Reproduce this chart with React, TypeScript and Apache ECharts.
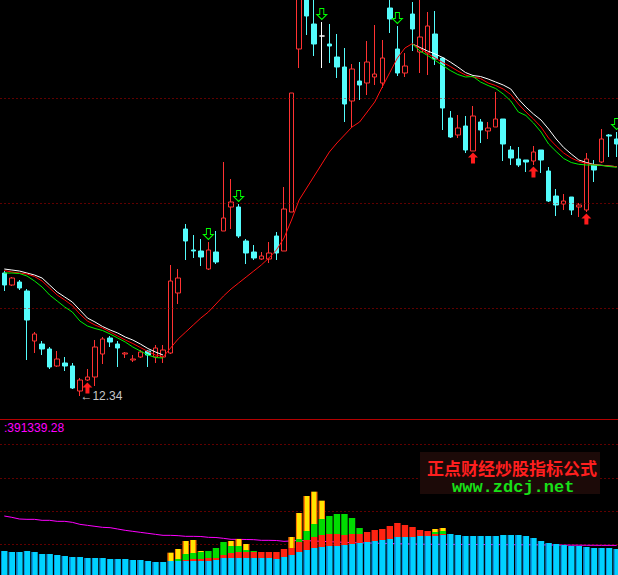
import React, { useEffect, useRef } from "react";
import * as echarts from "echarts";

// 82 trading days (labels are not displayed)
const categories: string[] = Array.from({ length: 82 }, (_, i) => `D${i + 1}`);

// [open, close, low, high]
const candles: number[][] = [
  [13.57, 13.45, 13.39, 13.59], [13.45, 13.52, 13.44, 13.53], [13.48, 13.42, 13.40, 13.50], [13.39, 13.10, 12.70, 13.41],
  [12.89, 12.96, 12.77, 12.98], [12.86, 12.81, 12.75, 12.89], [12.81, 12.63, 12.61, 12.83], [12.64, 12.71, 12.63, 12.79],
  [12.67, 12.64, 12.59, 12.73], [12.64, 12.42, 12.41, 12.67], [12.39, 12.50, 12.34, 12.52], [12.50, 12.53, 12.49, 12.61],
  [12.53, 12.83, 12.44, 12.90], [12.76, 12.91, 12.66, 12.93], [12.92, 12.88, 12.83, 12.94], [12.86, 12.82, 12.63, 12.89],
  [12.76, 12.77, 12.72, 12.78], [12.70, 12.71, 12.68, 12.75], [12.73, 12.78, 12.72, 12.80], [12.79, 12.75, 12.63, 12.80],
  [12.73, 12.82, 12.67, 12.85], [12.73, 12.80, 12.67, 12.85], [12.77, 13.49, 12.76, 13.65], [13.37, 13.52, 13.26, 13.61],
  [14.01, 13.89, 13.70, 14.06], [13.80, 13.79, 13.72, 13.95], [13.79, 13.73, 13.64, 13.91], [13.61, 13.80, 13.60, 13.88],
  [13.78, 13.68, 13.66, 13.99], [13.99, 14.12, 13.99, 14.68], [14.23, 14.28, 14.01, 14.51], [14.23, 13.94, 13.92, 14.26],
  [13.89, 13.77, 13.66, 13.91], [13.78, 13.72, 13.70, 13.85], [13.71, 13.74, 13.70, 13.78], [13.71, 13.77, 13.67, 13.88],
  [13.94, 13.77, 13.70, 13.98], [13.79, 14.21, 13.79, 14.43], [14.18, 15.37, 14.18, 15.37], [15.81, 16.35, 15.62, 16.40],
  [16.35, 16.14, 15.95, 16.40], [16.06, 15.86, 15.74, 16.35], [15.94, 15.94, 15.62, 16.08], [15.86, 15.84, 15.67, 16.06],
  [15.73, 15.63, 15.52, 15.96], [15.63, 15.26, 15.08, 15.82], [15.29, 15.61, 15.03, 15.66], [15.49, 15.45, 15.30, 15.68],
  [15.47, 15.68, 15.35, 15.89], [15.53, 15.56, 15.45, 16.05], [15.47, 15.72, 15.42, 15.90], [16.22, 16.11, 15.97, 16.35],
  [15.81, 15.57, 15.54, 16.04], [15.57, 15.64, 15.53, 15.77], [16.16, 16.01, 15.79, 16.28], [15.78, 15.93, 15.57, 16.35],
  [15.77, 16.04, 15.55, 16.18], [15.96, 15.71, 15.65, 16.19], [15.72, 15.22, 15.00, 15.73], [15.12, 14.93, 14.92, 15.19],
  [14.95, 15.02, 14.92, 15.15], [15.04, 14.80, 14.77, 15.14], [14.79, 15.14, 14.79, 15.24], [15.08, 15.00, 14.87, 15.11],
  [14.99, 15.02, 14.91, 15.08], [15.03, 15.11, 15.03, 15.38], [15.11, 14.86, 14.69, 15.11], [14.80, 14.72, 14.65, 14.84],
  [14.71, 14.65, 14.63, 14.83], [14.70, 14.68, 14.58, 14.70], [14.69, 14.78, 14.65, 14.84], [14.80, 14.70, 14.57, 14.80],
  [14.59, 14.29, 14.28, 14.63], [14.34, 14.25, 14.14, 14.41], [14.26, 14.29, 14.20, 14.36], [14.33, 14.20, 14.15, 14.33],
  [14.23, 14.25, 14.13, 14.27], [14.20, 14.71, 14.18, 14.77], [14.65, 14.60, 14.48, 14.70], [14.68, 14.91, 14.67, 15.01],
  [14.95, 14.94, 14.73, 14.96], [14.91, 14.86, 14.73, 14.98],
];

// moving-average style lines (falling phase: three lines; rising phase: one red line)
const whiteLeft = [13.61, 13.60, 13.59, 13.57, 13.55, 13.52, 13.45, 13.38, 13.33, 13.28, 13.20, 13.12, 13.08, 13.035, 13.00, 12.97, 12.93, 12.90, 12.86, 12.815, 12.78, 12.75];
const redLeft = [13.595, 13.58, 13.57, 13.56, 13.535, 13.49, 13.42, 13.35, 13.30, 13.245, 13.16, 13.09, 13.05, 13.02, 12.98, 12.94, 12.90, 12.865, 12.825, 12.785, 12.75, 12.735];
const greenLeft = [13.57, 13.57, 13.565, 13.54, 13.49, 13.43, 13.35, 13.29, 13.23, 13.18, 13.09, 13.04, 13.015, 12.995, 12.96, 12.92, 12.88, 12.83, 12.79, 12.75, 12.725, 12.72];
const midRise = [12.73, 12.82, 12.91, 12.98, 13.05, 13.12, 13.18, 13.26, 13.34, 13.41, 13.47, 13.53, 13.59, 13.65, 13.72, 13.80, 13.92, 14.10, 14.30, 14.42, 14.54, 14.66, 14.78, 14.87, 14.95, 15.03, 15.08, 15.18, 15.28, 15.43, 15.575, 15.72, 15.82, 15.865];
const whiteRight = [15.86, 15.825, 15.79, 15.76, 15.725, 15.68, 15.63, 15.575, 15.545, 15.535, 15.51, 15.48, 15.45, 15.41, 15.31, 15.23, 15.16, 15.10, 15.01, 14.91, 14.825, 14.76, 14.70, 14.675, 14.655, 14.647, 14.64, 14.633];
const redRight = [15.86, 15.815, 15.765, 15.72, 15.675, 15.635, 15.59, 15.55, 15.53, 15.515, 15.47, 15.445, 15.41, 15.355, 15.26, 15.18, 15.11, 15.03, 14.92, 14.84, 14.77, 14.72, 14.685, 14.665, 14.652, 14.647, 14.64, 14.633];
const greenRight = [15.86, 15.79, 15.745, 15.695, 15.645, 15.595, 15.555, 15.53, 15.535, 15.48, 15.445, 15.415, 15.36, 15.29, 15.18, 15.145, 15.07, 14.98, 14.86, 14.785, 14.715, 14.675, 14.657, 14.65, 14.65, 14.645, 14.635, 14.627];

// signal arrows (candle indexes)
const buyIdx = [11, 62, 70, 77];
const sellIdx = [27, 31, 42, 52, 81];

// price-panel dotted guide levels
const priceGuides = [15.32, 14.27, 13.22];
const lowMarkIdx = 10;
const lowMarkValue = 12.34;

// lower panel
const volBase = [
  324000, 312000, 312000, 324000, 312000, 288000, 288000, 276000, 264000, 252000,
  252000, 240000, 240000, 240000, 228000, 228000, 228000, 216000, 216000, 204000,
  192000, 192000, 204000, 204000, 204000, 204000, 204000, 204000, 216000, 240000,
  240000, 240000, 240000, 240000, 240000, 240000, 228000, 252000, 276000, 312000,
  336000, 360000, 372000, 384000, 384000, 396000, 408000, 420000, 432000, 444000,
  456000, 468000, 492000, 492000, 492000, 504000, 504000, 504000, 516000, 528000,
  516000, 504000, 504000, 504000, 504000, 504000, 516000, 516000, 516000, 504000,
  480000, 444000, 420000, 408000, 396000, 384000, 384000, 372000, 360000, 360000,
  360000, 348000,
];
const volRed = [
  0, 0, 0, 0, 0, 0, 0, 0, 0, 0,
  0, 0, 0, 0, 0, 0, 0, 0, 0, 0,
  0, 0, 0, 0, 12000, 24000, 24000, 36000, 24000, 36000,
  60000, 72000, 72000, 72000, 72000, 72000, 84000, 96000, 84000, 120000,
  120000, 132000, 144000, 144000, 144000, 120000, 120000, 108000, 120000, 132000,
  132000, 156000, 168000, 144000, 120000, 72000, 60000, 24000, 12000, 0,
  0, 0, 0, 0, 0, 0, 0, 0, 0, 0,
  0, 0, 0, 0, 0, 0, 0, 0, 0, 0,
  0, 0,
];
const volGreen = [
  0, 0, 0, 0, 0, 0, 0, 0, 0, 0,
  0, 0, 0, 0, 0, 0, 0, 0, 0, 0,
  0, 0, 0, 24000, 72000, 72000, 84000, 84000, 120000, 156000,
  84000, 72000, 24000, 12000, 0, 0, 0, 0, 0, 36000,
  108000, 156000, 192000, 216000, 240000, 252000, 192000, 72000, 0, 0,
  0, 0, 0, 0, 0, 0, 0, 24000, 36000, 0,
  0, 0, 0, 0, 0, 0, 0, 0, 0, 0,
  0, 0, 0, 0, 0, 0, 0, 0, 0, 0,
  0, 0,
];
const volYellow = [
  0, 0, 0, 0, 0, 0, 0, 0, 0, 0,
  0, 0, 0, 0, 0, 0, 0, 0, 0, 0,
  0, 0, 100000, 120000, 156000, 156000, 12000, 0, 0, 0,
  60000, 84000, 72000, 0, 0, 0, 0, 0, 132000, 312000,
  420000, 388000, 220000, 0, 0, 0, 0, 0, 0, 0,
  0, 0, 0, 0, 0, 0, 0, 36000, 36000, 0,
  0, 0, 0, 0, 0, 0, 0, 0, 0, 0,
  0, 0, 0, 0, 0, 0, 0, 0, 0, 0,
  0, 0,
];
const volAvg = [
  744000, 728000, 708000, 704000, 704000, 692000, 692000, 680000, 680000, 668000,
  644000, 632000, 620000, 608000, 604000, 588000, 572000, 560000, 548000, 536000,
  524000, 512000, 512000, 508000, 500000, 500000, 498000, 488000, 486000, 476000,
  464000, 464000, 462000, 460000, 452000, 452000, 450000, 440000, 445000, 452000,
  448000, 444000, 440000, 436000, 432000, 428000, 425000, 422000, 420000, 418000,
  416000, 414000, 412000, 410000, 408000, 406000, 405000, 404000, 404000, 404000,
  403000, 403000, 402000, 402000, 401000, 401000, 400000, 400000, 399000, 399000,
  398000, 397000, 396000, 395000, 395000, 394000, 394000, 393000, 393000, 392000,
  392000, 391339.28,
];
const volLabel = ":391339.28";
const volGuideInterval = 400000;
const volMax = 1908000;

const zeroToDash = (a: number[]) => a.map((v) => (v === 0 ? "-" : v));

export default function App() {
  const ref = useRef<HTMLDivElement>(null);

  useEffect(() => {
    if (!ref.current) return;
    const chart = echarts.init(ref.current, null, { renderer: "svg" });

    const nulls = (n: number) => Array(n).fill(null);
    const maWhite = [...whiteLeft, ...nulls(32), ...whiteRight];
    const maRed = [...redLeft, ...nulls(32), ...redRight];
    const maGreen = [...greenLeft, ...nulls(32), ...greenRight];
    const maMid = [...nulls(21), ...midRise, ...nulls(27)];

    const candleData = candles.map((c) =>
      c[0] === c[1]
        ? { value: c, itemStyle: { color: "#ffffff", borderColor: "#ffffff", borderColorDoji: "#ffffff" } }
        : c
    );

    const buyData = buyIdx.map((i) => [i, candles[i][2]]);
    const sellData = sellIdx.map((i) => [i, candles[i][3]]);

    const cyanGrad = new echarts.graphic.LinearGradient(0, 0, 1, 0, [
      { offset: 0, color: "#0896e0" },
      { offset: 0.22, color: "#0896e0" },
      { offset: 0.22, color: "#00d2ff" },
      { offset: 1, color: "#00d2ff" },
    ]);
    const yellowGrad = new echarts.graphic.LinearGradient(0, 0, 1, 0, [
      { offset: 0, color: "#ff7a00" },
      { offset: 0.2, color: "#ff7a00" },
      { offset: 0.2, color: "#ffe400" },
      { offset: 0.8, color: "#ffe400" },
      { offset: 0.8, color: "#ff7a00" },
      { offset: 1, color: "#ff7a00" },
    ]);

    const dotted = { color: "#c00000", type: [1, 3] as any, width: 1 };

    chart.setOption({
      animation: false,
      backgroundColor: "#000000",
      grid: [
        { left: 0.5, right: 0.6, top: 0, height: 419 },
        { left: 0.5, right: 0.6, top: 419, height: 159 },
      ],
      xAxis: [
        { type: "category", gridIndex: 0, data: categories, show: false, boundaryGap: true },
        { type: "category", gridIndex: 1, data: categories, show: false, boundaryGap: true },
      ],
      yAxis: [
        { type: "value", gridIndex: 0, min: 12.11, max: 16.3, show: false, scale: true },
        {
          type: "value",
          gridIndex: 1,
          min: 0,
          max: volMax,
          interval: volGuideInterval,
          axisLine: { show: false },
          axisTick: { show: false },
          axisLabel: { show: false },
          splitLine: { show: true, showMinLine: false, showMaxLine: false, lineStyle: dotted },
        },
      ],
      series: [
        {
          type: "candlestick",
          xAxisIndex: 0,
          yAxisIndex: 0,
          data: candleData,
          barWidth: 5,
          clip: true,
          z: 2,
          itemStyle: {
            color: "#000000",
            color0: "#54fcfc",
            borderColor: "#ff3232",
            borderColor0: "#54fcfc",
            borderColorDoji: "#ffffff",
            borderWidth: 1,
          },
          markLine: {
            silent: true,
            symbol: ["none", "none"],
            label: { show: false },
            lineStyle: dotted,
            data: priceGuides.map((v) => ({ yAxis: v })),
          },
          markPoint: {
            silent: true,
            data: [
              {
                coord: [lowMarkIdx, lowMarkValue],
                symbol: "circle",
                symbolSize: 1,
                itemStyle: { color: "rgba(0,0,0,0)" },
                label: {
                  show: true,
                  position: "right",
                  distance: 0,
                  formatter: "←" + lowMarkValue.toFixed(2),
                  color: "#c8c8c8",
                  fontSize: 12,
                  fontFamily: "Liberation Sans",
                },
              },
            ],
          },
        },
        {
          type: "line",
          xAxisIndex: 0,
          yAxisIndex: 0,
          data: maWhite,
          symbol: "none",
          connectNulls: false,
          lineStyle: { color: "#ffffff", width: 1 },
          z: 3,
        },
        {
          type: "line",
          xAxisIndex: 0,
          yAxisIndex: 0,
          data: maRed,
          symbol: "none",
          connectNulls: false,
          lineStyle: { color: "#ff0000", width: 1 },
          z: 3,
        },
        {
          type: "line",
          xAxisIndex: 0,
          yAxisIndex: 0,
          data: maGreen,
          symbol: "none",
          connectNulls: false,
          lineStyle: { color: "#00ee00", width: 1 },
          z: 3,
        },
        {
          type: "line",
          xAxisIndex: 0,
          yAxisIndex: 0,
          data: maMid,
          symbol: "none",
          connectNulls: false,
          lineStyle: { color: "#ff1010", width: 1 },
          z: 3,
        },
        {
          type: "scatter",
          xAxisIndex: 0,
          yAxisIndex: 0,
          data: buyData,
          symbol: "path://M5 0L10 5L7 5L7 11L3 11L3 5L0 5Z",
          symbolSize: [10, 11],
          symbolOffset: [0, 7],
          itemStyle: { color: "#ff1c1c", opacity: 1 },
          z: 4,
        },
        {
          type: "scatter",
          xAxisIndex: 0,
          yAxisIndex: 0,
          data: sellData,
          symbol: "path://M3 0L7 0L7 6L10 6L5 11L0 6L3 6Z",
          symbolSize: [10, 11],
          symbolOffset: [0, -8],
          itemStyle: { color: "rgba(0,0,0,0)", borderColor: "#00ff00", borderWidth: 1, opacity: 1 },
          z: 4,
        },
        {
          type: "line",
          xAxisIndex: 1,
          yAxisIndex: 1,
          data: volAvg,
          symbol: "none",
          lineStyle: { color: "#ff00ff", width: 1 },
          z: 1,
        },
        {
          type: "bar",
          xAxisIndex: 1,
          yAxisIndex: 1,
          stack: "vol",
          data: volBase,
          barWidth: 6.4,
          itemStyle: { color: cyanGrad },
          z: 2,
        },
        {
          type: "bar",
          xAxisIndex: 1,
          yAxisIndex: 1,
          stack: "vol",
          data: zeroToDash(volRed),
          barWidth: 6.4,
          itemStyle: { color: "#ff2412" },
          z: 2,
        },
        {
          type: "bar",
          xAxisIndex: 1,
          yAxisIndex: 1,
          stack: "vol",
          data: zeroToDash(volGreen),
          barWidth: 6.4,
          itemStyle: { color: "#00dc00" },
          z: 2,
        },
        {
          type: "bar",
          xAxisIndex: 1,
          yAxisIndex: 1,
          stack: "vol",
          data: zeroToDash(volYellow),
          barWidth: 6.4,
          itemStyle: { color: yellowGrad },
          z: 2,
        },
      ],
      graphic: [
        {
          type: "line",
          shape: { x1: 0, y1: 419.5, x2: 621, y2: 419.5 },
          style: { stroke: "#b40000", lineWidth: 1 },
          z: 100,
        },
        {
          type: "text",
          x: 4,
          y: 427.5,
          style: {
            text: volLabel,
            fill: "#ff00ff",
            fontSize: 12,
            fontFamily: "Liberation Sans",
            verticalAlign: "middle",
          },
          z: 100,
        },
        {
          type: "rect",
          shape: { x: 420, y: 452, width: 180, height: 42 },
          style: { fill: "#1c0a08" },
          z: 100,
        },
        {
          type: "text",
          x: 427,
          y: 467,
          style: {
            text: "正点财经炒股指标公式",
            fill: "#ff1f1f",
            fontSize: 17,
            fontWeight: "bold",
            fontFamily: "Noto Sans CJK SC",
            verticalAlign: "middle",
          },
          z: 101,
        },
        {
          type: "text",
          x: 452,
          y: 487.5,
          style: {
            text: "www.zdcj.net",
            fill: "#18e018",
            fontSize: 17,
            fontWeight: "bold",
            fontFamily: "Liberation Mono",
            verticalAlign: "middle",
          },
          z: 101,
        },
      ],
    });

    return () => chart.dispose();
  }, []);

  return (
    <div
      style={{
        position: "fixed",
        left: 0,
        top: 0,
        width: 618,
        height: 575,
        overflow: "hidden",
        background: "#000000",
      }}
    >
      <div ref={ref} style={{ width: 621, height: 578 }} />
    </div>
  );
}
